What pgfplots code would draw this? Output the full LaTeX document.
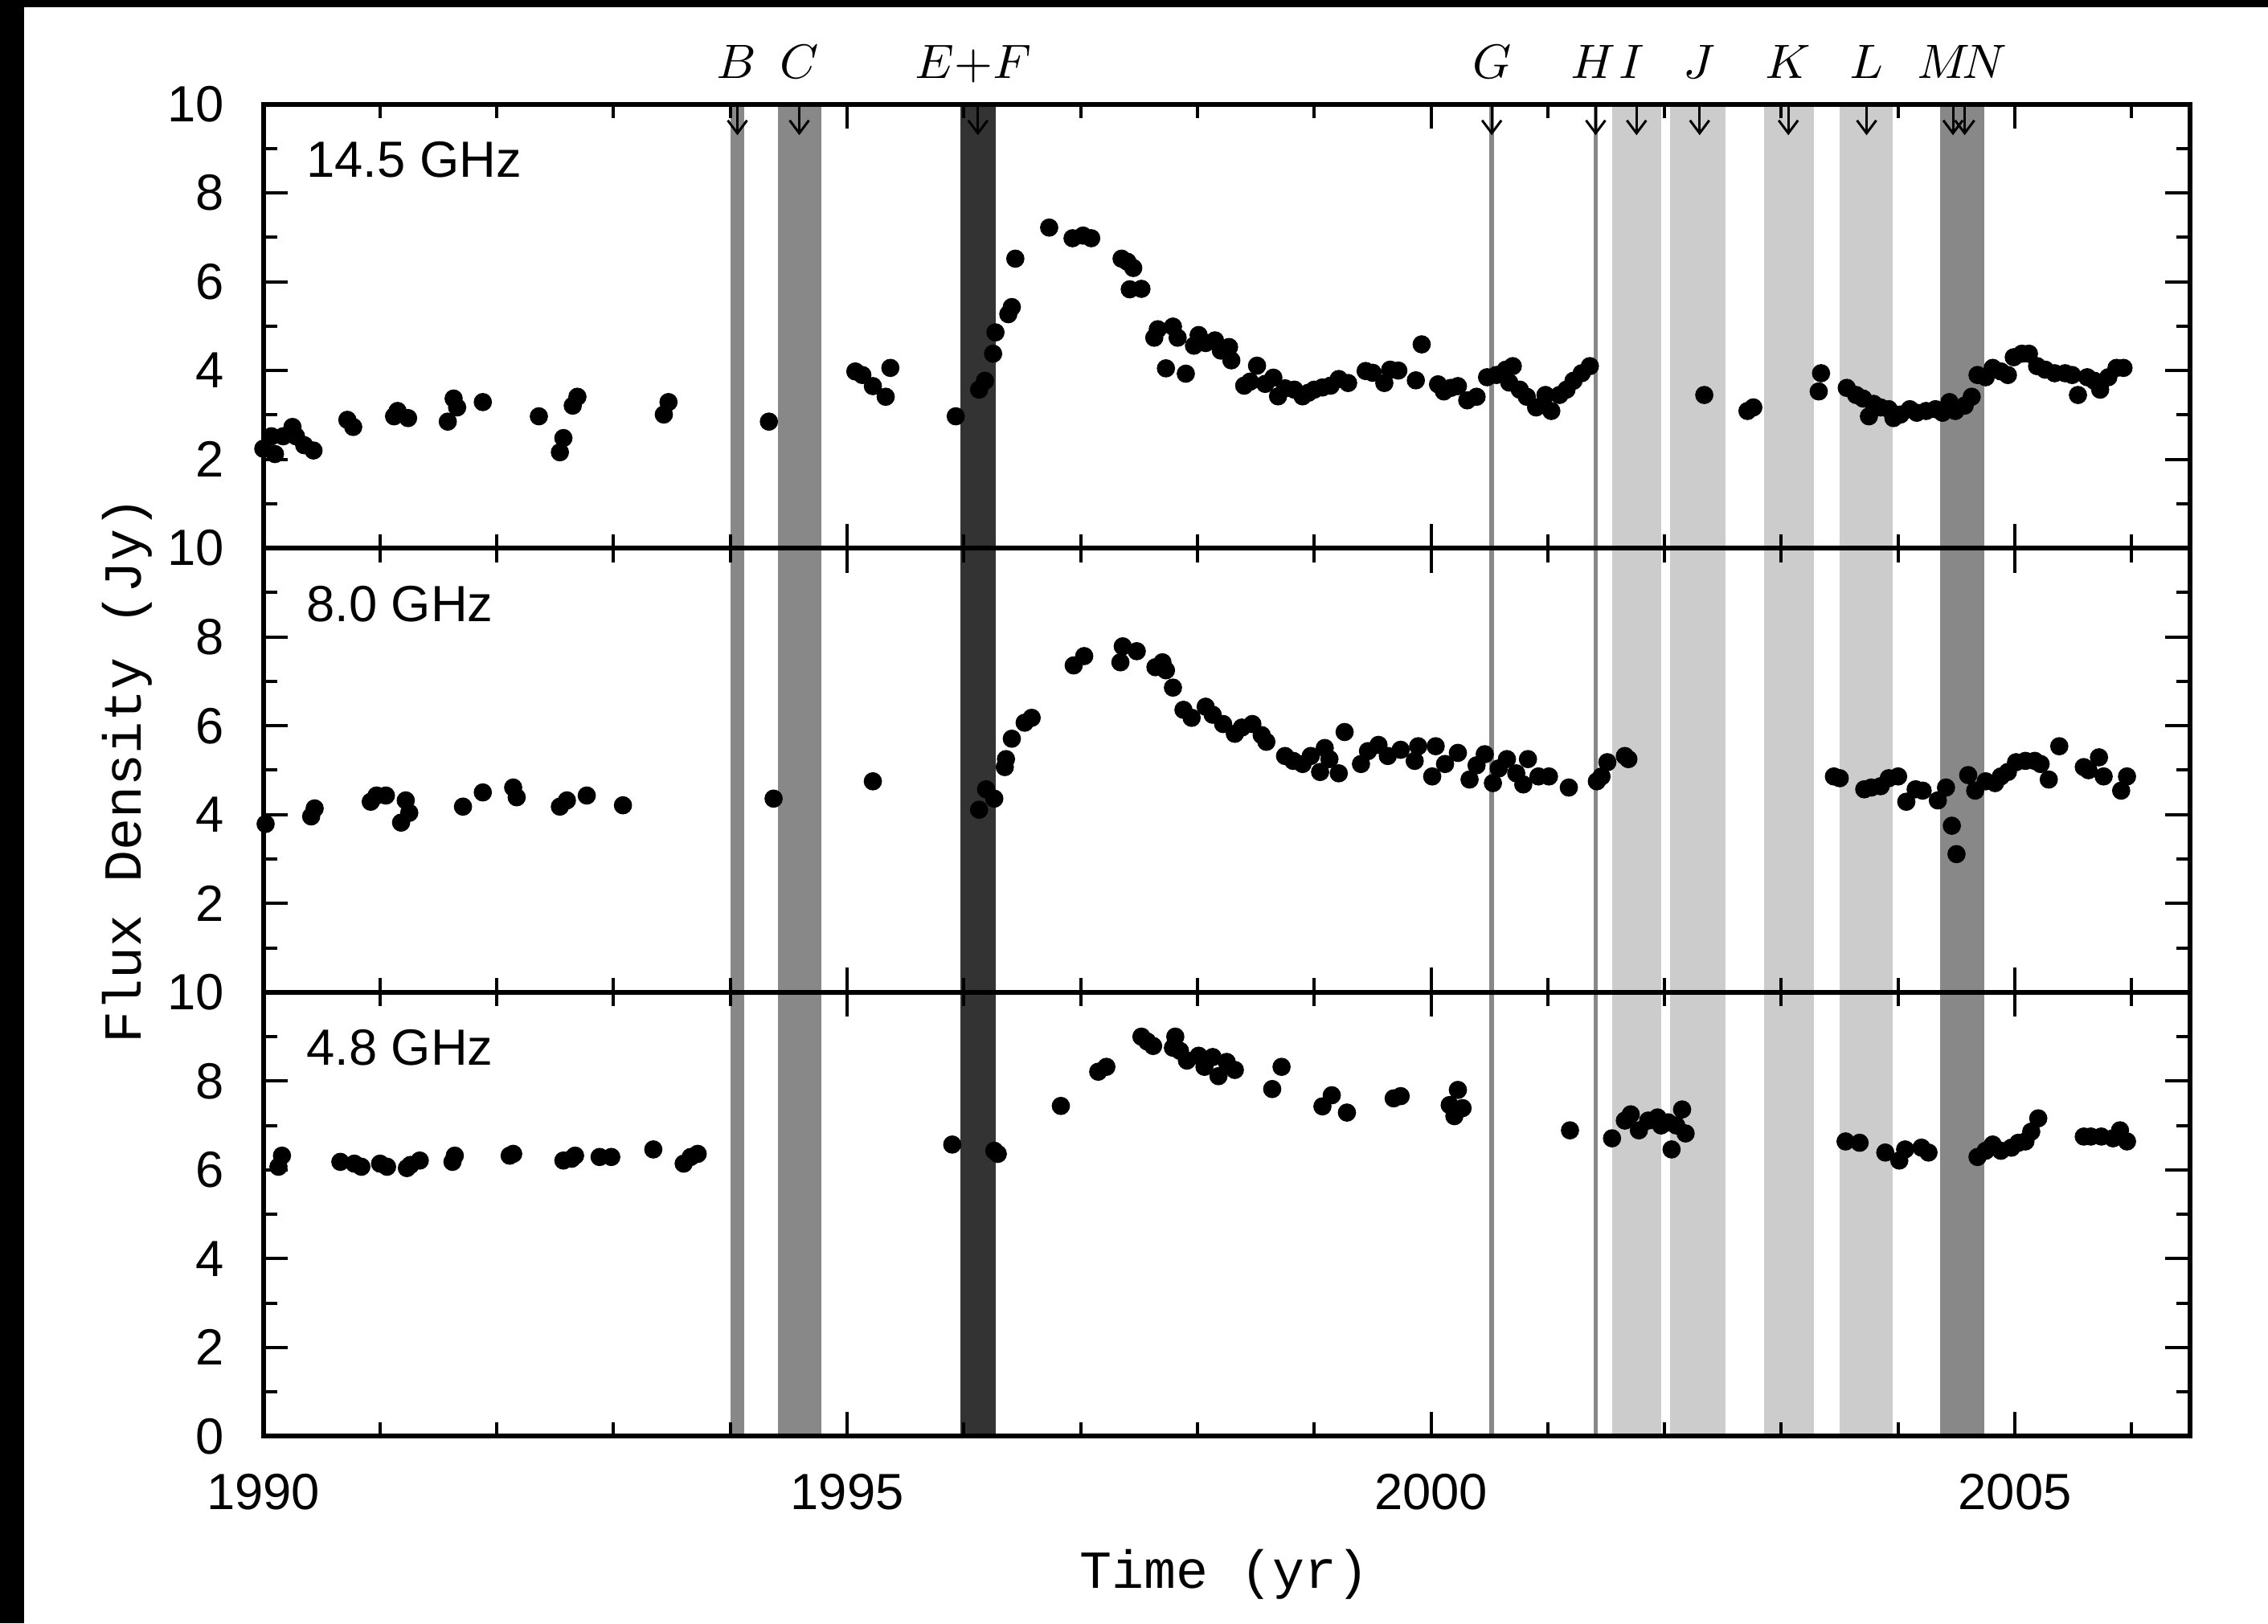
\documentclass[border=0pt]{standalone}
\usepackage{pgfplots}
\pgfplotsset{compat=1.18}
\usepackage{fontspec}
\setmainfont{Liberation Sans}
\newfontfamily\monof{Liberation Mono}
\usetikzlibrary{arrows.meta}
\definecolor{cB}{HTML}{888888}
\definecolor{cD}{HTML}{333333}
\definecolor{cL}{HTML}{CCCCCC}

\pgfplotsset{
  dots/.style={only marks, mark=*, mark size=1.5pt, black, mark options={draw=black, fill=black}},
  panel/.style={
    scale only axis, width=359.61pt, height=82.89pt,
    xmin=1990, xmax=2006.5, ymin=0, ymax=10,
    xtick={1990,1995,2000,2005},
    minor xtick={1991,1992,1993,1994,1996,1997,1998,1999,2001,2002,2003,2004,2006},
    ytick={2,4,6,8,10}, minor ytick={1,3,5,7,9},
    major tick length=4.6pt, minor tick length=2.6pt,
    tick style={black, line width=0.6pt},
    axis line style={line width=0.9pt},
    axis on top,
    clip mode=individual,
    ticklabel style={font=\fontsize{9.5}{10}\selectfont},
    /pgf/number format/assume math mode=true,
    yticklabel style={xshift=-3.8pt},
    xticklabel style={yshift=-3.5pt},
    xticklabels={},
  }
}
\newcommand{\bands}{%
 \fill[cB] (axis cs:1994.00,0) rectangle (axis cs:1994.12,10);
 \fill[cB] (axis cs:1994.41,0) rectangle (axis cs:1994.78,10);
 \fill[cD] (axis cs:1995.97,0) rectangle (axis cs:1996.27,10);
 \draw[cB, line width=1pt] (axis cs:2000.52,0) -- (axis cs:2000.52,10);
 \draw[cB, line width=0.7pt] (axis cs:2001.41,0) -- (axis cs:2001.41,10);
 \fill[cL] (axis cs:2001.55,0) rectangle (axis cs:2001.97,10);
 \fill[cL] (axis cs:2002.05,0) rectangle (axis cs:2002.52,10);
 \fill[cL] (axis cs:2002.85,0) rectangle (axis cs:2003.28,10);
 \fill[cL] (axis cs:2003.50,0) rectangle (axis cs:2003.95,10);
 \fill[cB] (axis cs:2004.36,0) rectangle (axis cs:2004.74,10);
}
\newcommand{\arr}[1]{\draw[-{Straight Barb[length=2.4pt,width=3.6pt]}, line width=0.45pt] (axis cs:#1,10) -- (axis cs:#1,9.3);}
\newcommand{\lbl}[2]{\node[anchor=base, inner sep=0pt, yshift=4.74pt, font=\fontsize{9.5}{10}\selectfont] at (axis cs:#1,10) {#2};}
\newcommand{\plab}[1]{\node[anchor=base west, inner sep=0pt, font=\fontsize{9.5}{10}\selectfont] at (axis cs:1990.36,8.35) {#1};}

\pgfplotstableread{
x y
1990.00 2.24
1990.07 2.52
1990.10 2.12
1990.17 2.52
1990.25 2.73
1990.28 2.52
1990.35 2.32
1990.43 2.20
1990.72 2.89
1990.77 2.73
1991.12 2.97
1991.15 3.09
1991.24 2.93
1991.58 2.85
1991.63 3.37
1991.66 3.17
1991.88 3.29
1992.36 2.97
1992.54 2.16
1992.57 2.48
1992.65 3.21
1992.69 3.41
1993.43 3.01
1993.47 3.29
1994.33 2.85
1995.07 3.98
1995.13 3.90
1995.22 3.65
1995.33 3.41
1995.37 4.06
1995.93 2.97
1996.13 3.57
1996.18 3.77
1996.25 4.38
1996.27 4.86
1996.38 5.27
1996.41 5.43
1996.44 6.52
1996.73 7.22
1996.93 6.98
1997.02 7.04
1997.09 6.98
1997.35 6.52
1997.40 6.45
1997.45 6.31
1997.42 5.83
1997.52 5.84
1997.63 4.74
1997.66 4.93
1997.73 4.05
1997.79 4.99
1997.83 4.74
1997.90 3.93
1997.97 4.56
1998.01 4.80
1998.07 4.62
1998.15 4.68
1998.20 4.45
1998.27 4.53
1998.29 4.23
1998.40 3.66
1998.45 3.75
1998.51 4.11
1998.58 3.70
1998.65 3.84
1998.69 3.42
1998.75 3.60
1998.83 3.57
1998.90 3.42
1998.95 3.50
1999.00 3.57
1999.07 3.62
1999.14 3.66
1999.21 3.81
1999.29 3.72
1999.44 3.99
1999.50 3.95
1999.60 3.72
1999.65 4.02
1999.72 4.00
1999.87 3.78
1999.92 4.59
2000.06 3.69
2000.11 3.53
2000.17 3.61
2000.23 3.65
2000.31 3.33
2000.39 3.41
2000.48 3.85
2000.56 3.90
2000.64 4.02
2000.70 4.10
2000.67 3.73
2000.76 3.57
2000.82 3.41
2000.90 3.17
2000.98 3.45
2001.03 3.09
2001.10 3.45
2001.16 3.57
2001.22 3.77
2001.29 3.94
2001.36 4.10
2002.34 3.45
2002.71 3.09
2002.76 3.17
2003.32 3.53
2003.34 3.94
2003.56 3.61
2003.64 3.45
2003.70 3.37
2003.75 2.97
2003.79 3.25
2003.85 3.17
2003.92 3.13
2003.96 2.93
2004.02 3.01
2004.10 3.13
2004.16 3.05
2004.24 3.09
2004.32 3.13
2004.38 3.05
2004.44 3.29
2004.49 3.09
2004.57 3.21
2004.63 3.41
2004.68 3.90
2004.75 3.85
2004.81 4.06
2004.88 3.98
2004.94 3.90
2004.99 4.30
2005.06 4.38
2005.12 4.38
2005.19 4.10
2005.26 4.02
2005.34 3.94
2005.43 3.94
2005.49 3.90
2005.54 3.45
2005.62 3.85
2005.68 3.77
2005.73 3.57
2005.80 3.85
2005.87 4.06
2005.93 4.06
}\dataA

\pgfplotstableread{
x y
1990.02 3.79
1990.41 3.96
1990.44 4.14
1990.92 4.29
1990.97 4.43
1991.05 4.43
1991.18 3.82
1991.22 4.32
1991.25 4.04
1991.71 4.18
1991.88 4.50
1992.14 4.61
1992.17 4.39
1992.54 4.18
1992.60 4.32
1992.77 4.43
1993.08 4.21
1994.37 4.36
1995.22 4.75
1996.13 4.11
1996.19 4.57
1996.26 4.36
1996.35 5.07
1996.36 5.25
1996.41 5.71
1996.52 6.07
1996.58 6.18
1996.94 7.36
1997.03 7.57
1997.34 7.43
1997.36 7.79
1997.48 7.68
1997.64 7.32
1997.70 7.43
1997.73 7.25
1997.79 6.86
1997.88 6.36
1997.95 6.18
1998.07 6.43
1998.13 6.25
1998.22 6.04
1998.32 5.82
1998.38 5.96
1998.47 6.04
1998.55 5.79
1998.59 5.64
1998.75 5.32
1998.82 5.21
1998.90 5.14
1998.97 5.32
1999.05 4.96
1999.09 5.50
1999.13 5.25
1999.21 4.93
1999.26 5.86
1999.40 5.14
1999.46 5.43
1999.55 5.57
1999.63 5.32
1999.74 5.46
1999.86 5.21
1999.89 5.54
2000.01 4.86
2000.04 5.54
2000.12 5.14
2000.23 5.39
2000.33 4.79
2000.39 5.11
2000.46 5.36
2000.53 4.71
2000.58 5.04
2000.65 5.25
2000.73 4.93
2000.79 4.68
2000.83 5.25
2000.92 4.86
2001.01 4.86
2001.18 4.61
2001.42 4.75
2001.46 4.86
2001.51 5.18
2001.66 5.32
2001.69 5.25
2003.45 4.86
2003.50 4.82
2003.71 4.57
2003.77 4.61
2003.85 4.64
2003.92 4.82
2004.00 4.86
2004.07 4.29
2004.15 4.57
2004.21 4.54
2004.34 4.32
2004.41 4.61
2004.46 3.75
2004.50 3.11
2004.60 4.89
2004.66 4.54
2004.75 4.75
2004.83 4.71
2004.88 4.86
2004.94 4.96
2005.01 5.18
2005.09 5.21
2005.17 5.21
2005.22 5.14
2005.29 4.79
2005.38 5.54
2005.59 5.07
2005.63 5.00
2005.72 5.29
2005.76 4.86
2005.91 4.54
2005.96 4.86
}\dataB

\pgfplotstableread{
x y
1990.13 6.07
1990.16 6.32
1990.66 6.18
1990.78 6.14
1990.84 6.07
1991.00 6.14
1991.06 6.07
1991.23 6.04
1991.26 6.11
1991.34 6.21
1991.62 6.18
1991.64 6.32
1992.11 6.32
1992.14 6.36
1992.57 6.21
1992.64 6.25
1992.67 6.32
1992.88 6.29
1992.98 6.29
1993.34 6.46
1993.60 6.14
1993.66 6.29
1993.72 6.36
1995.90 6.57
1996.26 6.43
1996.29 6.36
1996.83 7.44
1997.15 8.21
1997.22 8.32
1997.52 9.00
1997.57 8.89
1997.62 8.79
1997.81 9.00
1997.79 8.75
1997.85 8.68
1997.91 8.46
1998.01 8.57
1998.06 8.32
1998.13 8.54
1998.18 8.11
1998.25 8.43
1998.32 8.25
1998.64 7.82
1998.72 8.32
1999.07 7.43
1999.15 7.68
1999.28 7.29
1999.68 7.61
1999.74 7.66
2000.16 7.46
2000.20 7.21
2000.23 7.80
2000.27 7.39
2001.19 6.89
2001.55 6.71
2001.66 7.11
2001.71 7.25
2001.78 6.89
2001.86 7.11
2001.94 7.18
2001.97 7.00
2002.03 7.07
2002.06 6.46
2002.10 7.00
2002.15 7.36
2002.18 6.82
2003.55 6.64
2003.67 6.61
2003.89 6.39
2004.01 6.21
2004.06 6.46
2004.20 6.50
2004.26 6.39
2004.68 6.29
2004.75 6.43
2004.81 6.57
2004.88 6.43
2004.97 6.50
2005.03 6.61
2005.09 6.64
2005.14 6.86
2005.20 7.16
2005.59 6.75
2005.65 6.75
2005.74 6.75
2005.84 6.71
2005.90 6.89
2005.96 6.64
}\dataC

\begin{document}
\begin{tikzpicture}
\path[use as bounding box] (0,0) rectangle (423.3pt,303pt);
\fill[white] (0,0) rectangle (423.3pt,303pt);
\fill[black] (0,301.6pt) rectangle (423.3pt,303pt);
\fill[black] (0,0) rectangle (4.5pt,303pt);

% 14.5 GHz
\begin{axis}[panel, at={(49.14pt,200.67pt)}, anchor=south west]
\bands
\addplot[dots] table[x=x,y=y] {\dataA};
\plab{14.5 GHz}
\arr{1994.06}\arr{1994.59}\arr{1996.12}\arr{2000.52}\arr{2001.41}\arr{2001.76}
\arr{2002.30}\arr{2003.06}\arr{2003.73}\arr{2004.47}\arr{2004.57}
\lbl{1994.05}{$B$}\lbl{1994.59}{$C$}\lbl{1996.08}{$E{+}F$}\lbl{2000.52}{$G$}
\lbl{2001.39}{$H$}\lbl{2001.72}{$I$}\lbl{2002.30}{$J$}\lbl{2003.06}{$K$}
\lbl{2003.73}{$L$}\lbl{2004.55}{$M\!N$}
\end{axis}

% 8.0 GHz
\begin{axis}[panel, at={(49.14pt,117.78pt)}, anchor=south west]
\bands
\addplot[dots] table[x=x,y=y] {\dataB};
\plab{8.0 GHz}
\end{axis}

% 4.8 GHz
\begin{axis}[panel, at={(49.14pt,34.89pt)}, anchor=south west,
  ytick={0,2,4,6,8,10}, xticklabels={1990,1995,2000,2005}]
\bands
\addplot[dots] table[x=x,y=y] {\dataC};
\plab{4.8 GHz}
\end{axis}

\node[rotate=90, font=\monof\fontsize{10}{12}\selectfont] at (23.8pt,159.3pt) {Flux Density (Jy)};
\node[anchor=base, font=\monof\fontsize{10}{12}\selectfont] at (228.5pt,6.5pt) {Time (yr)};
\end{tikzpicture}
\end{document}
